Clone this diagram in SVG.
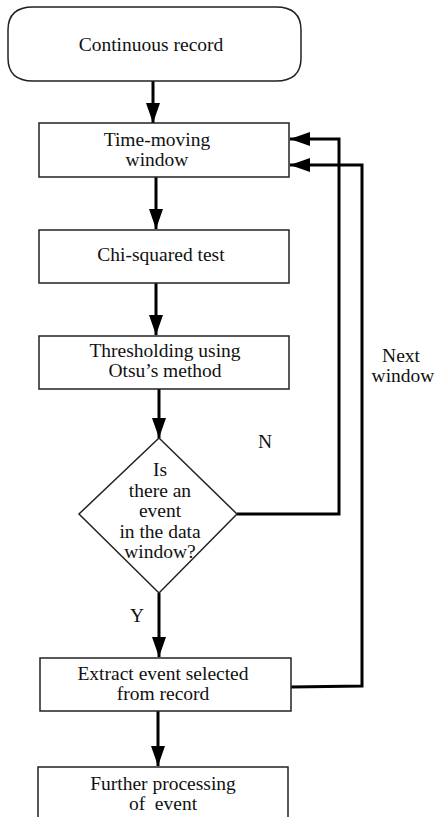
<svg xmlns="http://www.w3.org/2000/svg" width="435" height="817" viewBox="0 0 435 817">
<defs>
<marker id="a" viewBox="0 0 20 14" refX="20" refY="7" markerWidth="20" markerHeight="14" markerUnits="userSpaceOnUse" orient="auto">
<path d="M0,0 L20,7 L0,14 Z" fill="#000"/>
</marker>
</defs>
<style>
.box{fill:#fff;stroke:#222;stroke-width:1.5}
.t{font-family:'Liberation Serif','Times New Roman',serif;font-size:19.5px;fill:#111;text-anchor:middle}
.c{fill:none;stroke:#000;stroke-width:3}
</style>
<rect width="435" height="817" fill="#fff"/>
<g id="connectors">
<line class="c" x1="153" y1="81" x2="153" y2="123" marker-end="url(#a)"/>
<line class="c" x1="156" y1="177" x2="156" y2="229" marker-end="url(#a)"/>
<line class="c" x1="156" y1="283" x2="156" y2="335" marker-end="url(#a)"/>
<line class="c" x1="159" y1="389" x2="159" y2="438" marker-end="url(#a)"/>
<line class="c" x1="159" y1="593" x2="159" y2="657" marker-end="url(#a)"/>
<line class="c" x1="158" y1="711" x2="158" y2="766" marker-end="url(#a)"/>
<polyline class="c" points="237,514 339,514 339,139 290,139" marker-end="url(#a)"/>
<polyline class="c" points="291,687 362,686 362,165 290,165" marker-end="url(#a)"/>
<text class="t" x="265" y="448">N</text>
<text class="t" x="137" y="622">Y</text>
<text class="t" x="401" y="362">Next</text>
<text class="t" x="403" y="382">window</text>
</g>
<g id="start">
<path class="box" d="M33,7 H276 Q301,7 301,30 V58 Q301,81 276,81 H33 Q8,81 8,58 V30 Q8,7 33,7 Z"/>
<text class="t" x="151" y="51">Continuous record</text>
</g>
<g id="window">
<rect class="box" x="39" y="123" width="250" height="54"/>
<text class="t" x="157" y="146">Time-moving</text>
<text class="t" x="157" y="166">window</text>
</g>
<g id="chi">
<rect class="box" x="39" y="230" width="250" height="53"/>
<text class="t" x="161" y="261">Chi-squared test</text>
</g>
<g id="thresh">
<rect class="box" x="39" y="336" width="250" height="53"/>
<text class="t" x="165" y="357">Thresholding using</text>
<text class="t" x="165" y="377">Otsu’s method</text>
</g>
<g id="decision">
<polygon class="box" points="159,438 237,514 159,593 79,514"/>
<text class="t" x="160" y="476">Is</text>
<text class="t" x="160" y="497">there an</text>
<text class="t" x="160" y="517">event</text>
<text class="t" x="160" y="538">in the data</text>
<text class="t" x="160" y="558">window?</text>
</g>
<g id="extract">
<rect class="box" x="40" y="658" width="251" height="53"/>
<text class="t" x="163" y="680">Extract event selected</text>
<text class="t" x="163" y="700">from record</text>
</g>
<g id="further">
<rect class="box" x="38" y="767" width="250" height="60"/>
<text class="t" x="163" y="790">Further processing</text>
<text class="t" x="163" y="810" xml:space="preserve">of  event</text>
</g>
</svg>
